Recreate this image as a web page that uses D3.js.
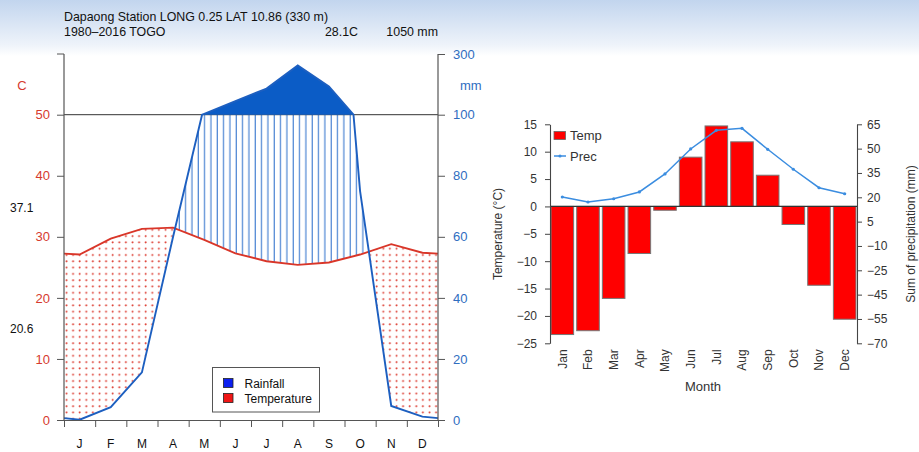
<!DOCTYPE html>
<head>
<meta charset="utf-8">
<style>
body { margin: 0; background: #fff; }
svg { display: block; font-family: "Liberation Sans", Arial, sans-serif; }
</style>
</head>
<body>
<script src="https://d3js.org/d3.v7.min.js"></script>
<script>
// climate diagram (left)
months = ["J", "F", "M", "A", "M", "J", "J", "A", "S", "O", "N", "D"];
wlTemp = [27.1, 29.7, 31.3, 31.5, 29.5, 27.3, 26.0, 25.4, 25.8, 27.1, 28.8, 27.4];
wlPrec = [0.1, 4.2, 15.6, 60, 103, 145, 186, 262, 193, 75, 4.6, 1.1];
wlTempTicks = [0, 10, 20, 30, 40, 50];
wlPrecTicks = [0, 20, 40, 60, 80, 100, 300];

// bar + line chart (right)
monthNames = ["Jan", "Feb", "Mar", "Apr", "May", "Jun", "Jul", "Aug", "Sep", "Oct", "Nov", "Dec"];
barTemp = [-23.4, -22.7, -16.8, -8.6, -0.7, 9.0, 14.7, 11.8, 5.7, -3.3, -14.4, -20.6];
barPrec = [20.2, 17.1, 19.1, 23.3, 34.4, 49.8, 61.3, 62.5, 49.6, 37.3, 25.9, 22.2];
barTempTicks = [15, 10, 5, 0, -5, -10, -15, -20, -25];
precAxisTicks = [65, 50, 35, 20, 5, -10, -25, -40, -55, -70];
precAxisLabels = ["65", "50", "35", "20", "5", "\u221210", "\u221225", "\u221245", "\u221255", "\u221270"];

width = 919, height = 452;
svg = d3.select("body").append("svg")
    .attr("width", width)
    .attr("height", height);
defs = svg.append("defs");

grad = defs.append("linearGradient").attr("id", "bg")
    .attr("x1", 0).attr("x2", 0).attr("y1", 0).attr("y2", 1);
grad.append("stop").attr("offset", "0%").attr("stop-color", "#c2d5ee");
grad.append("stop").attr("offset", "80%").attr("stop-color", "#eef3fa");
grad.append("stop").attr("offset", "100%").attr("stop-color", "#ffffff");
svg.append("rect").attr("width", width).attr("height", 56).attr("fill", "url(#bg)");

// ---------- left: Walter-Lieth ----------
L = {left: 64, right: 438, top: 54, bottom: 420};
x = d3.scaleLinear().domain([0, 12]).range([L.left, L.right]);
yT = d3.scaleLinear().domain([0, 50]).range([L.bottom, 114.7]);
yP = d3.scaleLinear().domain([0, 100, 300]).range([L.bottom, 114.7, L.top]);

edgeT = (wlTemp[11] + wlTemp[0]) / 2;
edgeP = (wlPrec[11] + wlPrec[0]) / 2;
tPts = [{m: 0, v: edgeT}].concat(wlTemp.map(function (v, i) { return {m: i + 0.5, v: v}; }), [{m: 12, v: edgeT}]);
pRaw = [{m: 0, v: edgeP}].concat(wlPrec.map(function (v, i) { return {m: i + 0.5, v: v}; }), [{m: 12, v: edgeP}]);

// add the point where the line passes 100 mm, so the scale break is exact
pPts = [pRaw[0]];
for (i = 1; i < pRaw.length; i++) {
    a = pRaw[i - 1], b = pRaw[i];
    if ((a.v - 100) * (b.v - 100) < 0) {
        f = (100 - a.v) / (b.v - a.v);
        pPts.push({m: a.m + f * (b.m - a.m), v: 100});
    }
    pPts.push(b);
}

hatch = defs.append("pattern").attr("id", "hatch")
    .attr("patternUnits", "userSpaceOnUse")
    .attr("x", 176.3).attr("y", 0)
    .attr("width", 6.33).attr("height", 20);
hatch.append("line")
    .attr("x1", 3).attr("x2", 3).attr("y1", 0).attr("y2", 20)
    .attr("stroke", "#4a84d2").attr("stroke-width", 1.2);

dots = defs.append("pattern").attr("id", "dots")
    .attr("patternUnits", "userSpaceOnUse")
    .attr("x", 64).attr("y", 0)
    .attr("width", 6.6).attr("height", 6.3);
dots.append("circle")
    .attr("cx", 2.5).attr("cy", 3).attr("r", 1.0)
    .attr("fill", "#dc3b30");

defs.append("clipPath").attr("id", "aboveT").append("path")
    .attr("d", d3.area().x(function (d) { return x(d.m); })
        .y0(L.top - 20).y1(function (d) { return yT(d.v); })(tPts));
defs.append("clipPath").attr("id", "aboveP").append("path")
    .attr("d", d3.area().x(function (d) { return x(d.m); })
        .y0(L.top - 20).y1(function (d) { return yP(d.v); })(pPts));

// humid period: hatch between temperature and rainfall (capped at 100)
svg.append("path")
    .attr("d", d3.area().x(function (d) { return x(d.m); })
        .y0(L.bottom).y1(function (d) { return yP(Math.min(d.v, 100)); })(pPts))
    .attr("fill", "url(#hatch)")
    .attr("clip-path", "url(#aboveT)");

// dry period: dots between rainfall and temperature
svg.append("path")
    .attr("d", d3.area().x(function (d) { return x(d.m); })
        .y0(L.bottom).y1(function (d) { return yT(d.v); })(tPts))
    .attr("fill", "url(#dots)")
    .attr("clip-path", "url(#aboveP)");

// line at 50 C / 100 mm
svg.append("line")
    .attr("x1", L.left).attr("x2", L.right)
    .attr("y1", yP(100)).attr("y2", yP(100))
    .attr("stroke", "#333").attr("stroke-width", 1);

// rainfall above 100 mm
svg.append("path")
    .attr("d", d3.area().x(function (d) { return x(d.m); })
        .y0(yP(100)).y1(function (d) { return yP(Math.max(d.v, 100)); })(pPts))
    .attr("fill", "#0b5cc6");

svg.append("path")
    .attr("d", d3.line().x(function (d) { return x(d.m); }).y(function (d) { return yT(d.v); })(tPts))
    .attr("fill", "none").attr("stroke", "#d93629").attr("stroke-width", 1.9);
svg.append("path")
    .attr("d", d3.line().x(function (d) { return x(d.m); }).y(function (d) { return yP(d.v); })(pPts))
    .attr("fill", "none").attr("stroke", "#1d5fc0").attr("stroke-width", 1.9);

// axes
axL = svg.append("g").attr("transform", "translate(" + L.left + ",0)")
    .call(d3.axisLeft(yT).tickValues(wlTempTicks).tickSize(7).tickPadding(7));
axL.select(".domain").remove();
axL.selectAll("line").attr("stroke", "#555");
axL.selectAll("text").attr("fill", "#d63a2e").attr("font-size", 13).attr("font-family", null);

axR = svg.append("g").attr("transform", "translate(" + L.right + ",0)")
    .call(d3.axisRight(yP).tickValues(wlPrecTicks).tickSize(7).tickPadding(8));
axR.select(".domain").remove();
axR.selectAll("line").attr("stroke", "#555");
axR.selectAll("text").attr("fill", "#2f6dbf").attr("font-size", 13).attr("font-family", null);

svg.append("line").attr("x1", L.left).attr("x2", L.left).attr("y1", L.top).attr("y2", L.bottom)
    .attr("stroke", "#555").attr("stroke-width", 1.2);
svg.append("line").attr("x1", L.left - 7).attr("x2", L.left).attr("y1", L.top).attr("y2", L.top)
    .attr("stroke", "#555");
svg.append("line").attr("x1", L.right).attr("x2", L.right).attr("y1", L.top).attr("y2", L.bottom)
    .attr("stroke", "#555").attr("stroke-width", 1.2);

axB = svg.append("g").attr("transform", "translate(0," + L.bottom + ")")
    .call(d3.axisBottom(x).tickValues(d3.range(0, 13)).tickFormat("").tickSize(7).tickSizeOuter(0));
axB.select(".domain").attr("stroke", "#555").attr("stroke-width", 1.2);
axB.selectAll("line").attr("stroke", "#555");

svg.append("g").selectAll("text").data(months).enter().append("text")
    .attr("x", function (d, i) { return x(i + 0.5); })
    .attr("y", 448)
    .attr("text-anchor", "middle")
    .attr("font-size", 12)
    .attr("fill", "#111")
    .text(function (d) { return d; });

svg.append("text").attr("x", 22).attr("y", 90).attr("text-anchor", "middle")
    .attr("font-size", 13).attr("fill", "#d63a2e").text("C");
svg.append("text").attr("x", 460).attr("y", 90)
    .attr("font-size", 13).attr("fill", "#2f6dbf").text("mm");
svg.append("text").attr("x", 10).attr("y", 212).attr("font-size", 12).attr("fill", "#111").text("37.1");
svg.append("text").attr("x", 10).attr("y", 333).attr("font-size", 12).attr("fill", "#111").text("20.6");

svg.append("text").attr("x", 64).attr("y", 21).attr("font-size", 12.4).attr("fill", "#111")
    .text("Dapaong Station LONG 0.25 LAT 10.86 (330 m)");
svg.append("text").attr("x", 64).attr("y", 36).attr("font-size", 12.4).attr("fill", "#111")
    .text("1980\u20132016 TOGO");
svg.append("text").attr("x", 358).attr("y", 36).attr("text-anchor", "end").attr("font-size", 12.4).attr("fill", "#111")
    .text("28.1C");
svg.append("text").attr("x", 438).attr("y", 36).attr("text-anchor", "end").attr("font-size", 12.4).attr("fill", "#111")
    .text("1050 mm");

// legend
lg = svg.append("g").attr("transform", "translate(212.5,367.5)");
lg.append("rect").attr("width", 107).attr("height", 44.5)
    .attr("fill", "#fff").attr("stroke", "#555").attr("stroke-width", 1);
lg.append("rect").attr("x", 11).attr("y", 11).attr("width", 9.5).attr("height", 9)
    .attr("fill", "#0c1ff0").attr("stroke", "#222").attr("stroke-width", 0.8);
lg.append("rect").attr("x", 11).attr("y", 26).attr("width", 9.5).attr("height", 9)
    .attr("fill", "#f01616").attr("stroke", "#222").attr("stroke-width", 0.8);
lg.append("text").attr("x", 32).attr("y", 20).attr("font-size", 12).attr("fill", "#111").text("Rainfall");
lg.append("text").attr("x", 32).attr("y", 35).attr("font-size", 12).attr("fill", "#111").text("Temperature");

// ---------- right: bars + line ----------
R = {left: 550, right: 857, top: 124.3, bottom: 343.3};
bx = d3.scaleBand().domain(monthNames).range([R.left, R.right]).paddingInner(0.12).paddingOuter(0.04);
yb = d3.scaleLinear().domain([-25, 15]).range([R.bottom, R.top]);
yp = d3.scaleLinear().domain([-70, 65]).range([R.bottom, R.top]);

svg.append("g").selectAll("rect").data(barTemp).enter().append("rect")
    .attr("x", function (d, i) { return bx(monthNames[i]); })
    .attr("width", bx.bandwidth())
    .attr("y", function (d) { return yb(Math.max(0, d)); })
    .attr("height", function (d) { return Math.abs(yb(d) - yb(0)); })
    .attr("fill", "#ff0000")
    .attr("stroke", "#777").attr("stroke-width", 1);

svg.append("line").attr("x1", R.left).attr("x2", R.right)
    .attr("y1", yb(0)).attr("y2", yb(0))
    .attr("stroke", "#333").attr("stroke-width", 1.2);

precLine = d3.line()
    .x(function (d, i) { return bx(monthNames[i]) + bx.bandwidth() / 2; })
    .y(function (d) { return yp(d); });
svg.append("path").attr("d", precLine(barPrec))
    .attr("fill", "none").attr("stroke", "#3b8de0").attr("stroke-width", 1.5);
svg.append("g").selectAll("circle").data(barPrec).enter().append("circle")
    .attr("cx", function (d, i) { return bx(monthNames[i]) + bx.bandwidth() / 2; })
    .attr("cy", function (d) { return yp(d); })
    .attr("r", 1.6)
    .attr("fill", "#3b8de0");

ax2 = svg.append("g").attr("transform", "translate(" + R.left + ",0)")
    .call(d3.axisLeft(yb).tickValues(barTempTicks).tickSize(5).tickSizeOuter(0).tickPadding(8));
ax3 = svg.append("g").attr("transform", "translate(" + R.right + ",0)")
    .call(d3.axisRight(yp).tickValues(precAxisTicks).tickSize(5).tickSizeOuter(0).tickPadding(5)
        .tickFormat(function (d, i) { return precAxisLabels[i]; }));
[ax2, ax3].forEach(function (g) {
    g.select(".domain").attr("stroke", "#444").attr("stroke-width", 1.1);
    g.selectAll("line").attr("stroke", "#444");
    g.selectAll("text").attr("fill", "#333").attr("font-size", 12).attr("font-family", null);
});

ax4 = svg.append("g").attr("transform", "translate(0," + R.bottom + ")")
    .call(d3.axisBottom(bx).tickSize(0));
ax4.select(".domain").remove();
ax4.selectAll("text")
    .attr("transform", "rotate(-90)")
    .attr("x", -6).attr("y", 0).attr("dy", "0.35em")
    .attr("text-anchor", "end")
    .attr("fill", "#333").attr("font-size", 12).attr("font-family", null);

svg.append("text").attr("x", 703).attr("y", 391).attr("text-anchor", "middle")
    .attr("font-size", 13).attr("fill", "#333").text("Month");
svg.append("text").attr("transform", "translate(502,234) rotate(-90)").attr("text-anchor", "middle")
    .attr("font-size", 12).attr("fill", "#333").text("Temperature (\u00b0C)");
svg.append("text").attr("transform", "translate(915,234) rotate(-90)").attr("text-anchor", "middle")
    .attr("font-size", 12).attr("fill", "#333").text("Sum of precipitation (mm)");

// legend right
svg.append("rect").attr("x", 554).attr("y", 131.5).attr("width", 11.5).attr("height", 8)
    .attr("fill", "#ff0000").attr("stroke", "#666").attr("stroke-width", 0.8);
svg.append("text").attr("x", 570).attr("y", 140).attr("font-size", 13).attr("fill", "#333").text("Temp");
svg.append("line").attr("x1", 554).attr("x2", 566).attr("y1", 156).attr("y2", 156)
    .attr("stroke", "#3b8de0").attr("stroke-width", 1.5);
svg.append("circle").attr("cx", 560).attr("cy", 156).attr("r", 1.6).attr("fill", "#3b8de0");
svg.append("text").attr("x", 570).attr("y", 160.5).attr("font-size", 13).attr("fill", "#333").text("Prec");
</script>
</body>
